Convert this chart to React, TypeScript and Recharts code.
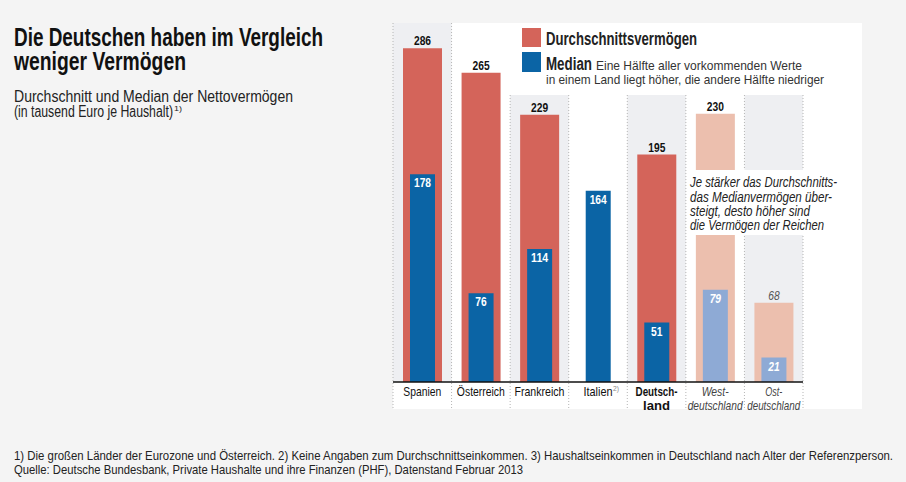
import React from "react";
import { BarChart, Bar, XAxis, YAxis, ReferenceArea, LabelList, Cell } from "recharts";

const categories = ["Spanien", "Österreich", "Frankreich", "Italien", "Deutschland", "Westdeutschland", "Ostdeutschland"];
const avgValues: (number | null)[] = [286, 265, 229, null, 195, 230, 68];
const medianValues = [178, 76, 114, 164, 51, 79, 21];
const tickLines: string[][] = [["Spanien"], ["Österreich"], ["Frankreich"], ["Italien"], ["Deutsch-", "land"], ["West-", "deutschland"], ["Ost-", "deutschland"]];
const tickWidths: number[][] = [[38], [48], [50], [29], [42, 27], [27, 55], [17, 53]];
const secondary = ["Westdeutschland", "Ostdeutschland"];
const grayColumns = ["Spanien", "Frankreich", "Deutschland", "Ostdeutschland"];

const FONT = "'Liberation Sans', Arial, sans-serif";
const RED = "#d4645a";
const BLUE = "#0b64a5";
const SALMON = "#ecbfae";
const LIGHTBLUE = "#8eaad5";
const COLGRAY = "#eeeff2";
const DIGIT_W = 5.7;

const data = categories.map((c, i) => ({ name: c, avg: avgValues[i], median: medianValues[i] }));

type TProps = {
  x: number; y: number; w: number; size: number; weight?: number; italic?: boolean;
  anchor?: "start" | "middle" | "end"; fill?: string; children: React.ReactNode;
};
const T = ({ x, y, w, size, weight = 400, italic = false, anchor = "start", fill = "#222", children }: TProps) => (
  <text x={x} y={y} textLength={w} lengthAdjust="spacingAndGlyphs" fontFamily={FONT} fontSize={size}
    fontWeight={weight} fontStyle={italic ? "italic" : "normal"} textAnchor={anchor} fill={fill}>
    {children}
  </text>
);

const ColumnShape = (props: any) => {
  const { x, y, width, height } = props;
  const bottom = y + height;
  return (
    <g>
      <rect x={x} y={y} width={width} height={height} fill={COLGRAY} />
      <line x1={x} x2={x} y1={y} y2={bottom + 27} stroke="#b5b5b5" strokeWidth={1} strokeDasharray="1 2" />
      <line x1={x + width} x2={x + width} y1={y} y2={bottom + 27} stroke="#b5b5b5" strokeWidth={1} strokeDasharray="1 2" />
    </g>
  );
};

const AvgLabel = (props: any) => {
  const { x, y, width, value, index } = props;
  if (value == null) return null;
  const sec = secondary.includes(categories[index]);
  const s = String(value);
  return (
    <T x={x + width / 2} y={y - 3} w={s.length * DIGIT_W} size={12.5} anchor="middle"
      weight={sec ? 400 : 700} italic={sec} fill={sec ? "#555" : "#111"}>{s}</T>
  );
};

const MedLabel = (props: any) => {
  const { x, y, width, value, index } = props;
  const sec = secondary.includes(categories[index]);
  const s = String(value);
  return (
    <T x={x + width / 2} y={y + 13} w={s.length * DIGIT_W} size={12.5} anchor="middle"
      weight={700} italic={sec} fill="#fff">{s}</T>
  );
};

const Tick = (props: any) => {
  const { x, y, index } = props;
  const lines = tickLines[index];
  const widths = tickWidths[index];
  const cat = categories[index];
  const sec = secondary.includes(cat);
  const bold = cat === "Deutschland";
  return (
    <g>
      {lines.map((l, i) => (
        <T key={i} x={x} y={y + 6 + i * 14} w={widths[i]} size={13} anchor="middle"
          weight={bold ? 700 : 400} italic={sec} fill={sec ? "#444" : "#111"}>{l}</T>
      ))}
      {cat === "Italien" ? <T x={x + 15} y={y + 1} w={6} size={7} fill="#888">2)</T> : null}
    </g>
  );
};

export default function App() {
  return (
    <div style={{ position: "absolute", left: 0, top: 0, width: 906, height: 482, background: "#f4f4f4", overflow: "hidden" }}>
      <div style={{ position: "absolute", left: 393, top: 23, width: 469, height: 386, background: "#fff" }} />
      <div style={{ position: "absolute", left: 0, top: 0 }}>
        <BarChart width={906} height={482} data={data} margin={{ top: 32, right: 103, bottom: 73, left: 393 }}>
          <YAxis hide domain={[0, 300]} />
          <XAxis xAxisId="avg" dataKey="name" height={27} interval={0} tickLine={false}
            axisLine={{ stroke: "#111", strokeWidth: 1.5 }} tick={<Tick />} />
          <XAxis xAxisId="med" dataKey="name" hide />
          {grayColumns.map((c) => (
            <ReferenceArea key={c} xAxisId="avg" x1={c} x2={c} y1={0} y2={c === "Spanien" ? 307.7 : 246}
              ifOverflow="visible" shape={<ColumnShape />} />
          ))}
          <Bar xAxisId="avg" dataKey="avg" barSize={39} fill={RED} isAnimationActive={false}>
            {data.map((d) => (
              <Cell key={d.name} fill={secondary.includes(d.name) ? SALMON : RED} />
            ))}
            <LabelList dataKey="avg" content={<AvgLabel />} />
          </Bar>
          <Bar xAxisId="med" dataKey="median" barSize={25} fill={BLUE} isAnimationActive={false}>
            {data.map((d) => (
              <Cell key={d.name} fill={secondary.includes(d.name) ? LIGHTBLUE : BLUE} />
            ))}
            <LabelList dataKey="median" content={<MedLabel />} />
          </Bar>
        </BarChart>
      </div>
      <svg width={906} height={482} style={{ position: "absolute", left: 0, top: 0, pointerEvents: "none" }}>
        {/* title */}
        <T x={14} y={46} w={309} size={25} weight={700} fill="#111">Die Deutschen haben im Vergleich</T>
        <T x={14} y={70} w={172} size={25} weight={700} fill="#111">weniger Vermögen</T>
        <T x={14} y={102} w={279} size={16} fill="#222">Durchschnitt und Median der Nettovermögen</T>
        <T x={14} y={117} w={159} size={16} fill="#222">(in tausend Euro je Haushalt)</T>
        <T x={174} y={111} w={8} size={8} fill="#222">1)</T>
        {/* legend */}
        <rect x={511} y={23} width={351} height={72} fill="#fff" />
        <rect x={522} y={28} width={19} height={19} fill={RED} />
        <T x={546} y={45} w={151} size={18} weight={700} fill="#222">Durchschnittsvermögen</T>
        <rect x={522} y={52} width={19} height={20} fill={BLUE} />
        <T x={546} y={69.5} w={46} size={18} weight={700} fill="#222">Median</T>
        <T x={596} y={69.5} w={206} size={13.5} fill="#333">Eine Hälfte aller vorkommenden Werte</T>
        <T x={546} y={83.5} w={278} size={13.5} fill="#333">in einem Land liegt höher, die andere Hälfte niedriger</T>
        {/* annotation */}
        <rect x={687} y={170} width={150} height={65} fill="#fff" />
        <T x={690} y={186.5} w={147} size={15.5} italic fill="#222">Je stärker das Durchschnitts-</T>
        <T x={690} y={201.5} w={142} size={15.5} italic fill="#222">das Medianvermögen über-</T>
        <T x={690} y={216} w={120} size={15.5} italic fill="#222">steigt, desto höher sind</T>
        <T x={690} y={230} w={134} size={15.5} italic fill="#222">die Vermögen der Reichen</T>
        {/* footer */}
        <T x={14} y={460} w={879} size={13} fill="#222">1) Die großen Länder der Eurozone und Österreich. 2) Keine Angaben zum Durchschnittseinkommen. 3) Haushaltseinkommen in Deutschland nach Alter der Referenzperson.</T>
        <T x={14} y={474} w={509} size={13} fill="#222">Quelle: Deutsche Bundesbank, Private Haushalte und ihre Finanzen (PHF), Datenstand Februar 2013</T>
      </svg>
    </div>
  );
}
